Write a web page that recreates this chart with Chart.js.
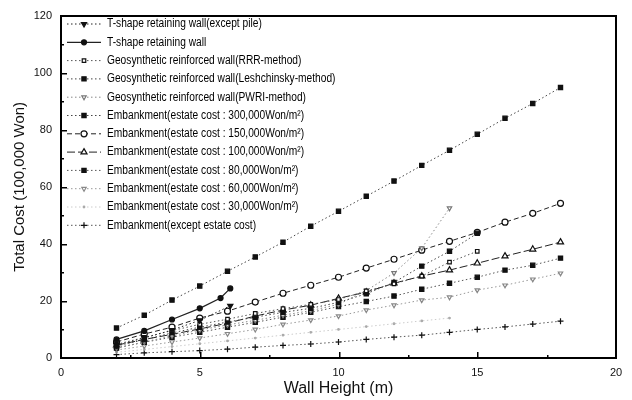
<!DOCTYPE html>
<html>
<head>
<meta charset="utf-8">
<script src="https://cdn.jsdelivr.net/npm/chart.js@4.4.1/dist/chart.umd.min.js"></script>
<style>
  html, body { margin: 0; padding: 0; background: #fff; }
  #wrap { width: 632px; height: 400px; }
</style>
</head>
<body>
<div id="wrap"><canvas id="costChart" width="632" height="400"></canvas></div>
<script>
// ---- data ----
const heights = [2, 3, 4, 5, 6, 7, 8, 9, 10, 11, 12, 13, 14, 15, 16, 17, 18];
const geoHeights = [2, 3, 4, 5, 6, 7, 8, 9, 10, 11, 12, 13, 14, 15];
const pwriHeights = [2, 3, 4, 5, 6, 7, 8, 9, 10, 11, 12, 13, 14];
const emb30Heights = [2, 3, 4, 5, 6, 7, 8, 9, 10, 11, 12, 13, 14];

const tShapeExPileX = [2, 3, 4, 5, 6.1];
const tShapeExPile = [4.5, 7.0, 9.8, 13.2, 18.3];
const tShapeX = [2, 3, 4, 5, 5.75, 6.1];
const tShape = [6.5, 9.5, 13.5, 17.4, 21.0, 24.4];

const geoRRR = [4.8, 7.2, 9.6, 11.8, 13.6, 15.6, 17.3, 18.8, 20.5, 23.5, 26.0, 28.7, 33.6, 37.4];
const geoLesh = [4.2, 6.4, 8.8, 10.8, 12.6, 14.3, 16.0, 17.4, 19.5, 22.5, 26.5, 32.2, 37.4, 43.7];
const geoPWRI = [3.6, 5.6, 7.8, 9.8, 11.6, 13.2, 15.0, 16.6, 18.8, 23.6, 29.8, 38.5, 52.5];

const emb300 = [10.5, 15.0, 20.3, 25.2, 30.4, 35.4, 40.6, 46.2, 51.4, 56.7, 62.0, 67.5, 72.8, 78.4, 84.0, 89.2, 94.8];
const emb150 = [5.6, 8.4, 10.8, 14.0, 16.4, 19.6, 22.7, 25.5, 28.3, 31.5, 34.6, 37.8, 40.9, 44.0, 47.6, 50.7, 54.2];
const emb100 = [4.5, 6.5, 8.3, 10.2, 12.2, 14.7, 16.8, 18.5, 20.9, 23.1, 26.2, 28.7, 30.8, 33.2, 35.7, 38.1, 40.6];
const emb80 = [3.5, 5.5, 7.3, 9.0, 10.8, 12.5, 14.3, 16.0, 18.0, 19.8, 21.7, 24.1, 26.2, 28.3, 30.8, 32.5, 35.0];
const emb60 = [2.8, 4.2, 5.6, 7.0, 8.5, 10.0, 11.8, 13.3, 14.7, 16.8, 18.5, 20.3, 21.3, 23.8, 25.5, 27.6, 29.7];
const emb30 = [2.0, 3.0, 4.0, 5.0, 6.0, 7.0, 8.0, 9.0, 10.0, 11.0, 12.0, 13.0, 14.0];
const embNoEstate = [1.2, 1.8, 2.2, 2.6, 3.1, 3.8, 4.4, 4.9, 5.6, 6.5, 7.3, 8.0, 9.0, 10.0, 10.9, 11.9, 12.9];

const xTicks = [0, 5, 10, 15, 20];
const yTicks = [0, 20, 40, 60, 80, 100, 120];

const labels = [
    'T-shape retaining wall(except pile)',
    'T-shape retaining wall',
    'Geosynthetic reinforced wall(RRR-method)',
    'Geosynthetic reinforced wall(Leshchinsky-method)',
    'Geosynthetic reinforced wall(PWRI-method)',
    'Embankment(estate cost : 300,000Won/m²)',
    'Embankment(estate cost : 150,000Won/m²)',
    'Embankment(estate cost : 100,000Won/m²)',
    'Embankment(estate cost : 80,000Won/m²)',
    'Embankment(estate cost : 60,000Won/m²)',
    'Embankment(estate cost : 30,000Won/m²)',
    'Embankment(except estate cost)'
];

function pts(xs, ys) {
    return ys.map((y, i) => ({ x: xs[i], y: y }));
}

const DOT = [1.5, 2.5];
const DASH = [5, 3];

function series(label, data, opts) {
    return Object.assign({
        label: label,
        data: data,
        borderColor: '#222',
        backgroundColor: '#111',
        pointBorderColor: '#111',
        pointBackgroundColor: '#111',
        borderWidth: 1,
        borderDash: DOT,
        pointRadius: 2.5,
        pointBorderWidth: 1.2,
        pointStyle: 'circle',
        pointRotation: 0,
        tension: 0,
        fill: false
    }, opts);
}

const datasets = [
    series(labels[0], pts(tShapeExPileX, tShapeExPile), { pointStyle: 'triangle', pointRotation: 180, pointRadius: 3 }),
    series(labels[1], pts(tShapeX, tShape), { borderDash: [], borderWidth: 1.3 }),
    series(labels[2], pts(geoHeights, geoRRR), { pointStyle: 'rect', pointBackgroundColor: '#fff', borderColor: '#555' }),
    series(labels[3], pts(geoHeights, geoLesh), { pointStyle: 'rect', pointRadius: 3, borderColor: '#444' }),
    series(labels[4], pts(pwriHeights, geoPWRI), { pointStyle: 'triangle', pointRotation: 180, pointBackgroundColor: '#fff', pointBorderColor: '#777', borderColor: '#888', pointRadius: 2.5 }),
    series(labels[5], pts(heights, emb300), { pointStyle: 'rect', pointRadius: 3, borderColor: '#444' }),
    series(labels[6], pts(heights, emb150), { borderDash: DASH, pointBackgroundColor: '#fff', pointRadius: 3 }),
    series(labels[7], pts(heights, emb100), { borderDash: [8, 3], pointStyle: 'triangle', pointBackgroundColor: '#fff', pointRadius: 3.5 }),
    series(labels[8], pts(heights, emb80), { pointStyle: 'rect', pointRadius: 3, borderColor: '#555' }),
    series(labels[9], pts(heights, emb60), { pointStyle: 'triangle', pointRotation: 180, pointBackgroundColor: '#fff', pointBorderColor: '#888', borderColor: '#999', pointRadius: 2.5 }),
    series(labels[10], pts(emb30Heights, emb30), { pointStyle: 'circle', pointRadius: 0.8, pointBorderColor: '#aaa', pointBackgroundColor: '#aaa', borderColor: '#ccc' }),
    series(labels[11], pts(heights, embNoEstate), { pointStyle: 'cross', pointRadius: 3, borderColor: '#555' })
];

// inward ticks on the bottom and left axes
const inwardTicks = {
    id: 'inwardTicks',
    afterDraw(chart) {
        const ctx = chart.ctx;
        const a = chart.chartArea;
        const xs = chart.scales.x;
        const ys = chart.scales.y;
        ctx.save();
        ctx.fillStyle = '#000';
        for (let v = 2.5; v < 20; v += 2.5) {
            const px = Math.round(xs.getPixelForValue(v));
            const len = v % 5 === 0 ? 6 : 3;
            ctx.fillRect(px, a.bottom - len, 1.5, len);
        }
        for (let v = 10; v < 120; v += 10) {
            const py = Math.round(ys.getPixelForValue(v));
            const len = v % 20 === 0 ? 6 : 3;
            ctx.fillRect(a.left, py, len, 1.5);
        }
        ctx.restore();
    }
};

// legend drawn inside the plot, line sample + marker like the original
const insideLegend = {
    id: 'insideLegend',
    afterDraw(chart) {
        const ctx = chart.ctx;
        const x0 = 67, x1 = 101, tx = 107, top = 24, step = 18.3;
        ctx.save();
        chart.data.datasets.forEach((ds, i) => {
            const y = top + i * step;
            ctx.strokeStyle = ds.borderColor;
            ctx.lineWidth = ds.borderWidth;
            ctx.setLineDash(ds.borderDash || []);
            ctx.beginPath();
            ctx.moveTo(x0, y);
            ctx.lineTo(x1, y);
            ctx.stroke();
            ctx.setLineDash([]);
            ctx.fillStyle = ds.pointBackgroundColor;
            ctx.strokeStyle = ds.pointBorderColor;
            ctx.lineWidth = ds.pointBorderWidth;
            Chart.helpers.drawPoint(ctx, {
                pointStyle: ds.pointStyle,
                rotation: ds.pointRotation,
                radius: ds.pointRadius,
                borderWidth: ds.pointBorderWidth
            }, (x0 + x1) / 2, y);
            ctx.save();
            ctx.translate(tx, y);
            ctx.scale(0.85, 1);
            ctx.fillStyle = '#000';
            ctx.font = '12px "Liberation Sans", Arial, sans-serif';
            ctx.textBaseline = 'middle';
            ctx.fillText(ds.label, 0, 0);
            ctx.restore();
        });
        ctx.restore();
    }
};

const tickFont = { family: '"Liberation Sans", Arial, sans-serif', size: 11 };
const axisBorder = { display: true, color: '#000', width: 2 };

new Chart(document.getElementById('costChart'), {
    type: 'line',
    data: { datasets: datasets },
    options: {
        responsive: false,
        animation: false,
        layout: { padding: { top: 15, right: 16, left: 0, bottom: 0 } },
        plugins: {
            legend: { display: false },
            tooltip: { enabled: false }
        },
        scales: {
            x: {
                type: 'linear',
                position: 'bottom',
                min: 0,
                max: 20,
                afterBuildTicks: s => { s.ticks = xTicks.map(v => ({ value: v })); },
                afterFit: s => { s.height = 42; },
                grid: { display: false, drawTicks: false },
                border: axisBorder,
                ticks: { padding: 8, color: '#111', font: tickFont },
                title: {
                    display: true,
                    text: 'Wall Height (m)',
                    color: '#111',
                    padding: { top: 0, bottom: 2 },
                    font: { family: '"Liberation Sans", Arial, sans-serif', size: 16 }
                }
            },
            xTop: {
                type: 'linear',
                position: 'top',
                min: 0,
                max: 20,
                afterFit: s => { s.height = 0; },
                grid: { display: false, drawTicks: false },
                border: axisBorder,
                ticks: { display: false }
            },
            y: {
                type: 'linear',
                position: 'left',
                min: 0,
                max: 120,
                afterBuildTicks: s => { s.ticks = yTicks.map(v => ({ value: v })); },
                afterFit: s => { s.width = 61; },
                grid: { display: false, drawTicks: false },
                border: axisBorder,
                ticks: { padding: 9, color: '#111', font: tickFont },
                title: {
                    display: true,
                    text: 'Total Cost (100,000 Won)',
                    color: '#111',
                    padding: { top: 11, bottom: 0 },
                    font: { family: '"Liberation Sans", Arial, sans-serif', size: 15 }
                }
            },
            yRight: {
                type: 'linear',
                position: 'right',
                min: 0,
                max: 120,
                afterFit: s => { s.width = 0; },
                grid: { display: false, drawTicks: false },
                border: axisBorder,
                ticks: { display: false }
            }
        }
    },
    plugins: [inwardTicks, insideLegend]
});
</script>
</body>
</html>
